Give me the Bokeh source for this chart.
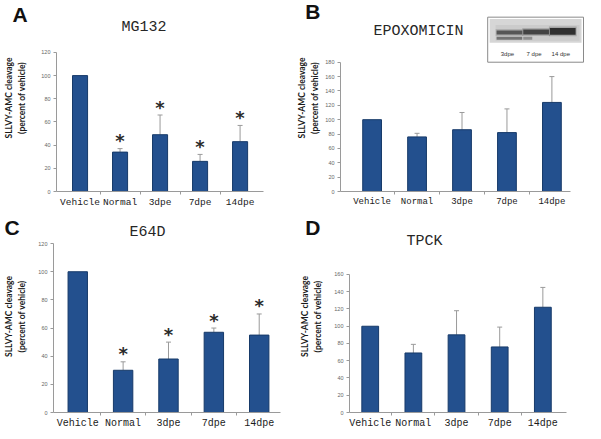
import numpy as np
from bokeh.plotting import figure
from bokeh.models import Range1d, FixedTicker, Label, Whisker, TeeHead, ColumnDataSource
from bokeh.layouts import column, gridplot
from bokeh.embed import file_html
from bokeh.resources import INLINE
from bokeh.core.properties import value

# ---------------- data ----------------
categories = ["Vehicle", "Normal", "3dpe", "7dpe", "14dpe"]

mg132_mean = [100, 34, 49, 26, 43]
mg132_upper = [100, 37, 66, 32, 57]
mg132_sig = [False, True, True, True, True]

epox_mean = [100, 76, 86, 82, 124]
epox_upper = [100, 81, 110, 115, 160]
epox_sig = [False, False, False, False, False]

e64d_mean = [100, 30, 38, 57, 55]
e64d_upper = [100, 36, 50, 60, 70]
e64d_sig = [False, True, True, True, True]

tpck_mean = [100, 69, 90, 76, 122]
tpck_upper = [100, 79, 118, 99, 145]
tpck_sig = [False, False, False, False, False]

blot_lanes = ["3dpe", "7 dpe", "14 dpe"]
blot_upper_band = [0.70, 0.85, 1.00]
blot_lower_band = [0.65, 0.45, 0.00]
blot_lower_extent = [1.0, 0.35, 0.0]

y_label = "SLLVY-AMC cleavage\n(percent of vehicle)"

# ---------------- style ----------------
BAR_FILL = "#23508e"
BAR_LINE = "#173a69"
AXIS = "#9a9a9a"
ERR = "#9a9a9a"
TXT = "#1a1a1a"

W = 292
COL_DX = [-3, 1]
SX = W / 296
ROW_H = [216, 215]
TILE_H = [220, 219]

GEOM = {
    "A": dict(L=50, R=270, FR=272, T=53, B=195, c1=75, d=42.5, bw=16, tx=143, ty=28, lx=5, cb=21, ls=11, xf=9.5),
    "B": dict(L=48, R=281, FR=295, T=63, B=195, c1=80, d=45.5, bw=19, tx=127, ty=32, lx=12, cb=18, ls=2, xf=9),
    "C": dict(L=53, R=287, FR=289, T=28, B=203, c1=78, d=46.75, bw=20, tx=150, ty=17, lx=3, cb=18, ls=8, xf=10),
    "D": dict(L=57, R=277, FR=279, T=60, B=203, c1=78, d=43.75, bw=17, tx=133, ty=26, lx=12, cb=18, ls=8, xf=10),
}


def make_panel(letter, title, mean, upper, sig, ymax, row_i, col_i):
    g = GEOM[letter]
    dx = COL_DX[col_i]
    H = ROW_H[row_i]
    sy = H / TILE_H[row_i]

    def fx(t):
        return (t + dx) * SX

    L, R, FR, T, B = g["L"], g["R"], g["FR"], g["T"], g["B"]
    c1, d = g["c1"], g["d"]
    ft = 4                      # frame top in figure pixels
    ft_t = ft / sy              # same in reference pixels
    b_fig = round(B * sy)
    n = len(categories)
    xs = list(range(1, n + 1))
    y_end = ymax * (B - ft_t) / (B - T)
    x0 = 1 - (c1 - L) / d
    x1 = 1 + (FR - c1) / d
    x_axis_end = 1 + (R - c1) / d

    left_b = round(fx(L))
    right_b = max(0, W - round(fx(FR)))
    p = figure(width=W, height=H,
               x_range=Range1d(x0, x1), y_range=Range1d(0, y_end),
               output_backend="svg", toolbar_location=None,
               min_border_left=left_b, min_border_right=right_b,
               min_border_top=ft, min_border_bottom=H - b_fig)
    p.outline_line_color = None
    p.grid.visible = False
    p.background_fill_color = "white"
    p.border_fill_color = "white"
    p.extra_x_ranges = {"px": Range1d(L, FR)}
    p.extra_y_ranges = {"px": Range1d(B, ft_t)}

    # panel letter as the figure title, pulled to the upper-left corner
    p.title.text = letter
    p.title.align = "left"
    p.title.vertical_align = "bottom"
    p.title.text_font = "Liberation Sans"
    p.title.text_font_style = "bold"
    p.title.text_font_size = "21px"
    p.title.text_color = "#111111"
    p.title.offset = fx(g["lx"]) - left_b
    p.title.standoff = -2 * (g["cb"] * sy + 4.5 - ft)

    # x axis
    xa = p.xaxis[0]
    xa.ticker = FixedTicker(ticks=xs, minor_ticks=[i + 0.5 for i in range(1, n)])
    xa.major_label_overrides = {x: c for x, c in zip(xs, categories)}
    xa.bounds = (x0, x_axis_end)
    xa.major_tick_out = 0
    xa.major_tick_in = 0
    xa.minor_tick_out = 3
    xa.minor_tick_in = 0
    xa.axis_line_color = AXIS
    xa.minor_tick_line_color = AXIS
    xa.major_tick_line_color = None
    xa.major_label_text_font = "Liberation Mono"
    xa.major_label_text_font_size = f"{g['xf']}px"
    xa.major_label_text_color = TXT
    xa.major_label_standoff = 2

    # y axis
    ya = p.yaxis[0]
    ya.ticker = FixedTicker(ticks=list(range(0, ymax + 1, 20)), minor_ticks=[])
    ya.bounds = (0, ymax)
    ya.major_tick_out = 3
    ya.major_tick_in = 0
    ya.minor_tick_out = 0
    ya.minor_tick_in = 0
    ya.axis_line_color = AXIS
    ya.major_tick_line_color = AXIS
    ya.major_label_text_font = "Liberation Sans"
    ya.major_label_text_font_size = "5.5px"
    ya.major_label_text_color = "#666666"
    ya.major_label_standoff = 3
    ya.axis_label = y_label
    ya.axis_label_text_font = "Lato"
    ya.axis_label_text_font_style = "bold"
    ya.axis_label_text_font_size = "8.5px"
    ya.axis_label_text_color = TXT
    ya.axis_label_text_line_height = 1.35
    ya.axis_label_standoff = g["ls"]

    # bars
    src = ColumnDataSource(dict(x=xs, mean=mean, upper=upper))
    p.vbar(x="x", top="mean", width=g["bw"] / d, source=src,
           fill_color=BAR_FILL, line_color=BAR_LINE, line_width=1)

    # error bars (upper only)
    idx = [i for i in range(n) if upper[i] > mean[i]]
    wsrc = ColumnDataSource(dict(x=[xs[i] for i in idx], lo=[mean[i] for i in idx],
                                 hi=[upper[i] for i in idx]))
    p.add_layout(Whisker(base="x", lower="lo", upper="hi", source=wsrc, dimension="height",
                         line_color=ERR, line_width=1,
                         upper_head=TeeHead(size=5, line_color=ERR, line_width=1),
                         lower_head=None))

    # significance stars
    sidx = [i for i in range(n) if sig[i]]
    if sidx:
        p.text(x=[xs[i] for i in sidx], y=[upper[i] for i in sidx], text=["*"] * len(sidx),
               y_offset=-8, text_align="center", text_baseline="middle",
               text_font=value("DejaVu Sans"), text_font_style="bold",
               text_font_size="18px", text_color="#2a2a2a")

    # chart title
    p.add_layout(Label(x=g["tx"], y=g["ty"], x_range_name="px", y_range_name="px", text=title,
                       text_font="Liberation Mono", text_font_size="15px",
                       text_align="center", text_baseline="middle", text_color="#262626"))
    return p


pA = make_panel("A", "MG132", mg132_mean, mg132_upper, mg132_sig, 120, 0, 0)
pB = make_panel("B", "EPOXOMICIN", epox_mean, epox_upper, epox_sig, 180, 0, 1)
pC = make_panel("C", "E64D", e64d_mean, e64d_upper, e64d_sig, 120, 1, 0)
pD = make_panel("D", "TPCK", tpck_mean, tpck_upper, tpck_sig, 160, 1, 1)

# ---------------- western blot inset in panel B ----------------
box_l, box_r, box_t, box_b = 197, 294, 17, 63
kw = dict(x_range_name="px", y_range_name="px")
pB.quad(left=[box_l], right=[box_r], top=[box_t], bottom=[box_b],
        fill_color="white", line_color="#8a8a8a", line_width=1, **kw)
pB.quad(left=[box_l + 2], right=[box_r - 2], top=[box_t + 2], bottom=[box_t + 26],
        fill_color="#d6d6d6", line_color=None, **kw)
pB.quad(left=[box_l + 8], right=[box_r - 4], top=[box_t + 8], bottom=[box_t + 24],
        fill_color="#c6c6c6", line_color=None, fill_alpha=0.7, **kw)
lane_c = [box_l + 22 + 27 * i for i in range(len(blot_lanes))]
lane_w = 26
for i, lab in enumerate(blot_lanes):
    cx = lane_c[i]
    s = blot_upper_band[i]
    h = 3 + 4 * s ** 4
    yc = box_t + 16 - 1.5 * s ** 4
    pB.rect(x=[cx], y=[yc], width=[lane_w + 2], height=[h + 3], fill_color="#333333",
            fill_alpha=0.25 * s, line_color=None, **kw)
    pB.rect(x=[cx], y=[yc], width=[lane_w], height=[h], fill_color="#1a1a1a",
            fill_alpha=0.85 * s, line_color=None, **kw)
    lo = blot_lower_band[i]
    if lo > 0:
        wl = lane_w * blot_lower_extent[i]
        pB.quad(left=[cx - lane_w / 2], right=[cx - lane_w / 2 + wl], top=[box_t + 20],
                bottom=[box_t + 23], fill_color="#222222", fill_alpha=0.8 * lo, line_color=None, **kw)
    pB.add_layout(Label(x=cx - 2, y=box_t + 38, text=lab, text_font="Liberation Sans",
                        text_font_size="6px", text_align="center", text_baseline="middle",
                        text_color="#333333", **kw))

top_row = gridplot([[pA, pB]], toolbar_location=None)
bottom_row = gridplot([[pC, pD]], toolbar_location=None)
layout = column(top_row, bottom_row)

open("out.html", "w").write(file_html(layout, INLINE))
